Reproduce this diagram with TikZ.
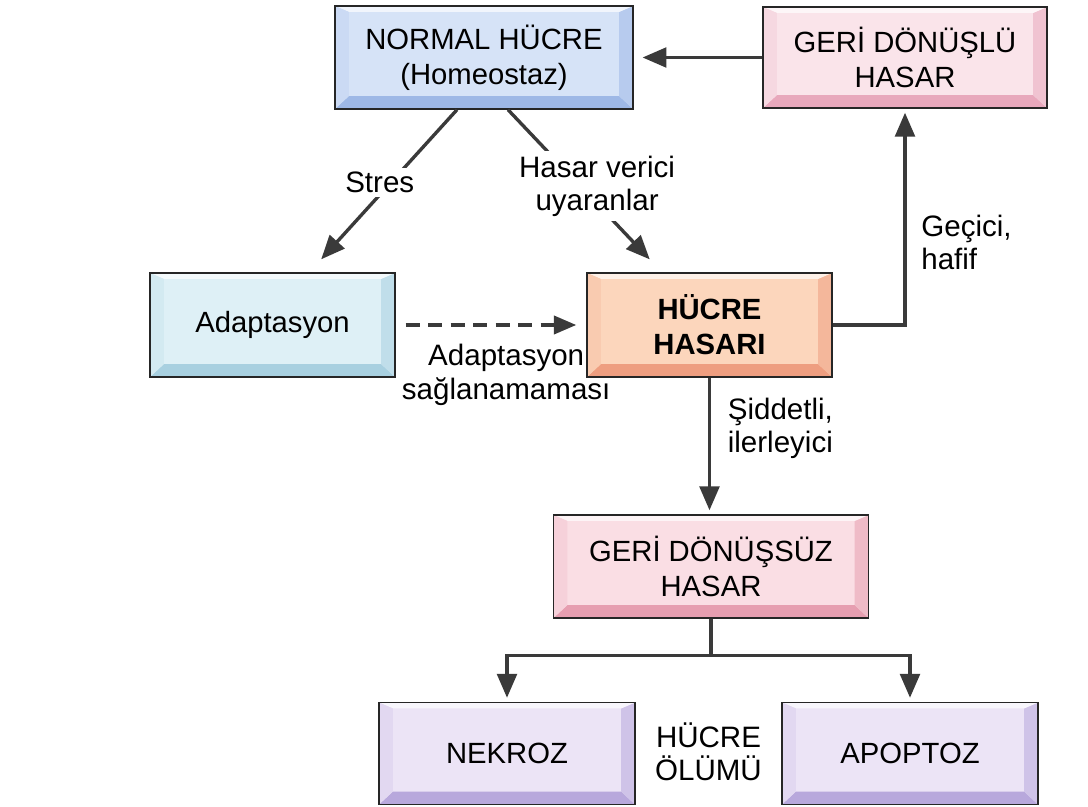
\documentclass[tikz,border=0pt]{standalone}
\usepackage{fontspec}
\setmainfont{Liberation Sans}
\usepackage{xcolor}
\usetikzlibrary{positioning,arrows.meta,calc}

% box colours: face and bevel shade
\definecolor{normalface}{RGB}{214,227,247}
\definecolor{normalshade}{RGB}{158,184,230}
\definecolor{revface}{RGB}{250,228,234}
\definecolor{revshade}{RGB}{232,168,188}
\definecolor{adaptface}{RGB}{222,240,246}
\definecolor{adaptshade}{RGB}{168,208,224}
\definecolor{injface}{RGB}{252,214,188}
\definecolor{injshade}{RGB}{238,158,128}
\definecolor{irrface}{RGB}{250,222,228}
\definecolor{irrshade}{RGB}{230,158,176}
\definecolor{deathface}{RGB}{236,228,246}
\definecolor{deathshade}{RGB}{184,168,220}
\definecolor{arrowgray}{RGB}{58,58,58}

\begin{document}
\begin{tikzpicture}[x=0.025cm, y=-0.025cm,
  cellbox/.style 2 args={draw=black!85, line width=1pt, fill=#1, inner sep=0pt,
    align=center, font=\fontsize{20.8}{25}\selectfont,
    path picture={
      \coordinate (pa) at (path picture bounding box.south west);
      \coordinate (pb) at (path picture bounding box.south east);
      \coordinate (pc) at (path picture bounding box.north east);
      \coordinate (pd) at (path picture bounding box.north west);
      \coordinate (qa) at ([shift={(0.35cm,0.325cm)}]pa);
      \coordinate (qb) at ([shift={(-0.35cm,0.325cm)}]pb);
      \coordinate (qc) at ([shift={(-0.35cm,-0.15cm)}]pc);
      \coordinate (qd) at ([shift={(0.35cm,-0.15cm)}]pd);
      \fill[#2] (pa) -- (pb) -- (qb) -- (qa) -- cycle;
      \fill[#1!45!#2] (pb) -- (pc) -- (qc) -- (qb) -- cycle;
      \fill[#1!35!white] (pc) -- (pd) -- (qd) -- (qc) -- cycle;
      \fill[#1!80!#2] (pd) -- (pa) -- (qa) -- (qd) -- cycle;
    }},
  lbl/.style={font=\fontsize{21}{23.5}\selectfont, align=center},
  arr/.style={draw=arrowgray, line width=2.4pt, -{Triangle[length=17pt,width=14pt]}, shorten >=0.1cm},
  dasharr/.style={draw=arrowgray, line width=2.4pt, dash pattern=on 10pt off 6pt,
    -{Triangle[length=16pt,width=13pt]}, shorten <=0.25cm, shorten >=0.25cm},
  link/.style={draw=arrowgray, line width=2.4pt}]

  \useasboundingbox (0,0) rectangle (1088,807);

  % top row
  \node[cellbox={normalface}{normalshade}, minimum width=7.45cm, minimum height=2.575cm]
    (normal) at (484,57.5) {NORMAL HÜCRE\\(Homeostaz)};
  \node[cellbox={revface}{revshade}, minimum width=7.1cm, minimum height=2.525cm]
    (reversible) at (905,57.5) {GER\.I DÖNÜŞLÜ\\HASAR};

  % middle row
  \node[cellbox={adaptface}{adaptshade}, minimum width=6.125cm, minimum height=2.6cm]
    (adapt) at (272.5,325) {Adaptasyon};
  \node[cellbox={injface}{injshade}, minimum width=6.125cm, minimum height=2.6cm, font=\fontsize{20.8}{25}\selectfont\bfseries]
    (injury) at (709.5,325) {HÜCRE\\HASARI};

  % irreversible damage
  \node[cellbox={irrface}{irrshade}, minimum width=7.875cm, minimum height=2.575cm]
    (irreversible) at (711,566.5) {GER\.I DÖNÜŞSÜZ\\HASAR};

  % bottom row: cell death
  \node[cellbox={deathface}{deathshade}, minimum width=6.4cm, minimum height=2.55cm]
    (necrosis) at (507,753.5) {NEKROZ};
  \node[cellbox={deathface}{deathshade}, minimum width=6.4cm, minimum height=2.55cm]
    (apoptosis) at (910,753.5) {APOPTOZ};
  \node[lbl] (death) at (708.5,752) {HÜCRE\\ÖLÜMÜ};

  % connectors
  \draw[arr, shorten >=0.22cm] (reversible) -- (normal);
  \draw[arr] ($(normal.south)+(-27,0)$) -- node[lbl, fill=white, inner sep=3pt, xshift=-0.2cm, yshift=0.08cm] (stres) {Stres} ($(adapt.north)+(46,-10)$);
  \draw[arr] ($(normal.south)+(24,0)$) -- node[lbl, fill=white, inner sep=3pt, xshift=0.42cm] (harm) {Hasar verici\\uyaranlar} ($(injury.north)+(-57,-10)$);
  \draw[dasharr] (adapt) -- node[lbl, below=0.33cm, xshift=0.38cm] (fail) {Adaptasyon\\sağlanamaması} (injury);
  \draw[arr] (injury) -| node[lbl, right, pos=0.69, align=left, xshift=0.25cm] (mild) {Geçici,\\hafif} (reversible.south);
  \draw[arr] (injury) -- node[lbl, right, pos=0.37, align=left, xshift=0.3cm] (severe) {Şiddetli,\\ilerleyici} (injury |- irreversible.north);

  % split to necrosis and apoptosis
  \coordinate (split) at ($(irreversible.south)+(0,37)$);
  \draw[link] (irreversible) -- (split);
  \draw[arr] (split) -| (necrosis);
  \draw[arr] (split) -| (apoptosis);
\end{tikzpicture}
\end{document}
